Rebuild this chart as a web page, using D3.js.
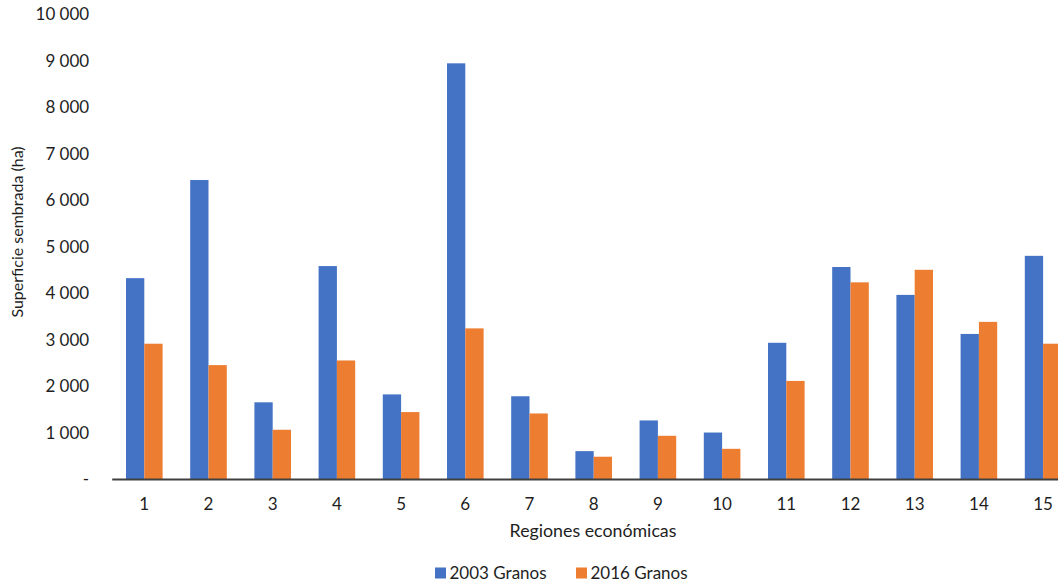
<!DOCTYPE html>
<html>
<head>
<meta charset="utf-8">
<script src="https://cdn.jsdelivr.net/npm/d3@7"></script>
<style>
  html, body { margin: 0; padding: 0; background: #fff; overflow: hidden; }
  svg { display: block; font-family: Lato, "Open Sans", sans-serif; }
</style>
</head>
<body>
<svg id="chart" width="1058" height="583"></svg>
<script>
const categories = ["1","2","3","4","5","6","7","8","9","10","11","12","13","14","15"];
const seriesNames = ["2003 Granos", "2016 Granos"];
const values2003 = [4330, 6440, 1660, 4590, 1830, 8950, 1790, 610, 1270, 1010, 2940, 4570, 3970, 3130, 4810];
const values2016 = [2920, 2460, 1070, 2560, 1450, 3250, 1420, 490, 940, 660, 2120, 4240, 4510, 3390, 2920];
const yTicks = [0, 1000, 2000, 3000, 4000, 5000, 6000, 7000, 8000, 9000, 10000];
const colors = ["#4472C4", "#ED7D31"];

(function () {
const svg = d3.select("#chart");
const plotLeft = 112.2, plotRight = 1075.2, plotTop = 14.5, plotBottom = 479.5;
const textColor = "#1e1e1e";

const x = d3.scaleBand().domain(categories).range([plotLeft, plotRight]).paddingInner(0).paddingOuter(0);
const x1 = d3.scaleBand().domain(seriesNames).range([0, x.bandwidth()]).paddingInner(0).paddingOuter(0.754);
const y = d3.scaleLinear().domain([0, 10000]).range([plotBottom, plotTop]);

const data = categories.map((c, i) => ({ cat: c, vals: [values2003[i], values2016[i]] }));

// bars
const groups = svg.append("g").selectAll("g").data(data).join("g")
  .attr("transform", d => `translate(${x(d.cat)},0)`);
groups.selectAll("rect").data(d => d.vals.map((v, j) => ({ name: seriesNames[j], v, j })))
  .join("rect")
  .attr("x", d => x1(d.name))
  .attr("width", x1.bandwidth())
  .attr("y", d => y(d.v))
  .attr("height", d => y(0) - y(d.v))
  .attr("fill", d => colors[d.j]);

// y axis
const fmt = d => d === 0 ? "-" : d3.format(",")(d).replace(/,/g, " ");
const yAxis = svg.append("g").attr("transform", `translate(${plotLeft},0)`)
  .call(d3.axisLeft(y).tickValues(yTicks).tickFormat(fmt).tickSize(0).tickPadding(23));
yAxis.select(".domain").remove();
yAxis.selectAll("text").attr("font-size", 17).attr("fill", textColor).attr("font-family", "Lato, 'Open Sans', sans-serif");

// x axis
const xAxis = svg.append("g").attr("transform", `translate(0,${plotBottom})`)
  .call(d3.axisBottom(x).tickSize(0).tickPadding(18));
xAxis.select(".domain").remove();
xAxis.selectAll("text").attr("font-size", 17).attr("fill", textColor).attr("font-family", "Lato, 'Open Sans', sans-serif");

svg.append("line")
  .attr("x1", plotLeft).attr("x2", 1058)
  .attr("y1", plotBottom).attr("y2", plotBottom)
  .attr("stroke", "#404040").attr("stroke-width", 2);

// axis titles
svg.append("text")
  .attr("x", 593).attr("y", 537)
  .attr("text-anchor", "middle").attr("font-size", 17.8).attr("fill", textColor)
  .text("Regiones económicas");

svg.append("text")
  .attr("transform", `translate(23,232) rotate(-90)`)
  .attr("text-anchor", "middle").attr("font-size", 16).attr("fill", textColor)
  .text("Superficie sembrada (ha)");

// legend
const legendItems = [{ name: seriesNames[0], x: 435 }, { name: seriesNames[1], x: 576 }];
const lg = svg.append("g").selectAll("g").data(legendItems).join("g")
  .attr("transform", d => `translate(${d.x},567.5)`);
lg.append("rect").attr("width", 11).attr("height", 11).attr("fill", (d, i) => colors[i]);
lg.append("text").attr("x", 14.5).attr("y", 11.5).attr("font-size", 17).attr("fill", textColor).text(d => d.name);
})();
</script>
</body>
</html>
